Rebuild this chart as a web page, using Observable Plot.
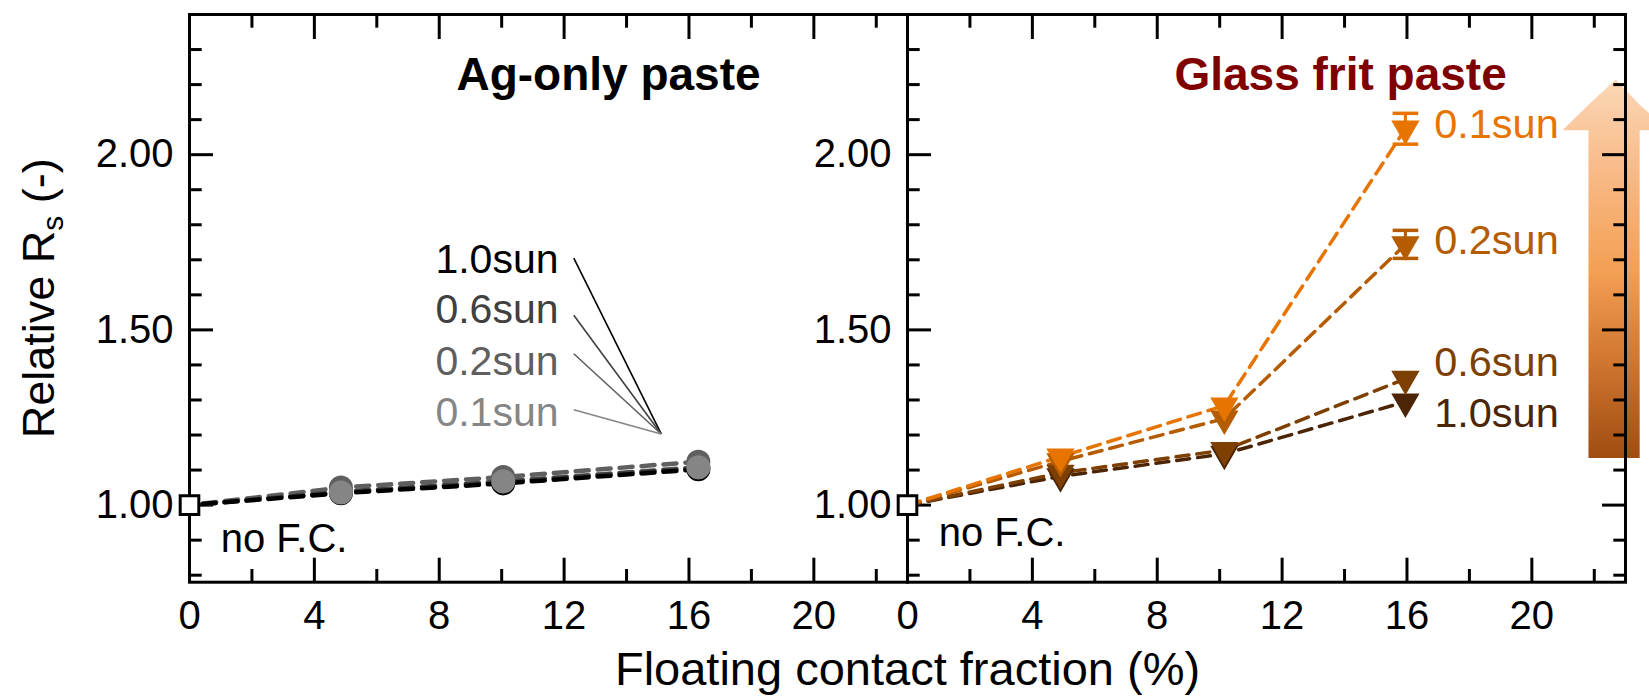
<!DOCTYPE html>
<html><head><meta charset="utf-8">
<script src="https://cdn.jsdelivr.net/npm/d3@7"></script>
<script src="https://cdn.jsdelivr.net/npm/@observablehq/plot@0.6"></script>
<style>
html,body{margin:0;padding:0;background:#fff;}
#chart{width:1649px;height:697px;overflow:hidden;position:relative;}
</style></head><body><div id="chart"></div>
<script>
// ---------------- data ----------------
const pastes = ["Ag-only paste", "Glass frit paste"];
const suns = ["1.0sun", "0.6sun", "0.2sun", "0.1sun"];

// Ag-only paste (circles)
const agX = [0, 4.85, 10.05, 16.3];
const agRs10 = [1.00, 1.034, 1.062, 1.102];
const agRs06 = [1.00, 1.038, 1.067, 1.107];
const agRs02 = [1.00, 1.050, 1.080, 1.124];
const agRs01 = [1.00, 1.036, 1.068, 1.108];

// Glass frit paste (down triangles)
const gfX = [0, 4.9, 10.15, 15.95];
const gfRs10 = [1.00, 1.082, 1.146, 1.295];
const gfRs06 = [1.00, 1.092, 1.157, 1.360];
const gfRs02 = [1.00, 1.125, 1.247, 1.744];
const gfRs01 = [1.00, 1.138, 1.284, 2.074];
const gfErr02 = [0, 0, 0, 0.040];
const gfErr01 = [0, 0, 0, 0.044];

const agColors = ["#000000", "#404040", "#5f5f5f", "#858585"];
const gfColors = ["#4b2505", "#7e3f02", "#b55b00", "#e87400"];

// axis ticks
const xMajor = [0, 4, 8, 12, 16, 20];
const xMinor = [2, 6, 10, 14, 18, 22];
const yMajor = [1.0, 1.5, 2.0];
const yMinor = [0.8, 0.9, 1.1, 1.2, 1.3, 1.4, 1.6, 1.7, 1.8, 1.9, 2.1, 2.2, 2.3];

// annotations
const titleX = [8.55, 8.55];
const titleY = [2.184, 2.184];
const noFcX = [1.0, 1.0];
const noFcY = [0.866, 0.882];
const originX = [0, 0];
const originY = [1.0, 1.0];
const agLabelX = 11.82;
const agLabelY = [1.662, 1.519, 1.371, 1.225];
const agLeadX1 = 12.31;
const agLeadY1 = [1.705, 1.542, 1.432, 1.272];
const agLeadX2 = 15.11;
const agLeadY2 = 1.203;
const gfLabelX = 16.87;
const gfLabelY = [1.222, 1.368, 1.716, 2.047];
const yTitle = "Relative Rs (-)";
const xTitle = "Floating contact fraction (%)";

// decorative arrow (right panel, data units)
const arrowX  = [21.0, 21.83, 21.83, 22.7, 23.47, 23.47, 24.4];
const arrowY1 = [2.068, 2.068, 1.133, 1.133, 1.133, 2.068, 2.068];
const arrowY2 = [2.068, 2.141, 2.141, 2.213, 2.141, 2.141, 2.068];

// ---------------- tables ----------------
const key = (p, s) => p + " " + s;
const agSeries = [agRs10, agRs06, agRs02, agRs01];
const gfSeries = [gfRs10, gfRs06, gfRs02, gfRs01];
const gfErrs = [null, null, gfErr02, gfErr01];

const agRows = [];
agSeries.forEach((vals, k) => agX.forEach((x, i) => agRows.push({paste: pastes[0], sun: suns[k], key: key(pastes[0], suns[k]), x, y: vals[i]})));
const agLineRows = agRows.slice().reverse(); // black dashes on top
const gfRows = [];
gfSeries.forEach((vals, k) => gfX.forEach((x, i) => gfRows.push({paste: pastes[1], sun: suns[k], key: key(pastes[1], suns[k]), x, y: vals[i], err: gfErrs[k] ? gfErrs[k][i] : 0})));
const errRows = gfRows.filter(d => d.err > 0);
const capRows = errRows.flatMap(d => [{...d, y: d.y - d.err}, {...d, y: d.y + d.err}]);

const colorDomain = [...suns.map(s => key(pastes[0], s)), ...suns.map(s => key(pastes[1], s))];
const colorRange = [...agColors, ...gfColors];

const originRows = pastes.map((p, i) => ({paste: p, x: originX[i], y: originY[i]}));
const noFcRows = pastes.map((p, i) => ({paste: p, x: noFcX[i], y: noFcY[i]}));
const agLabelRows = suns.map((s, k) => ({paste: pastes[0], sun: s, key: key(pastes[0], s), x: agLabelX, y: agLabelY[k]}));
const agLeadRows = suns.map((s, k) => ({paste: pastes[0], key: key(pastes[0], s), x1: agLeadX1, y1: agLeadY1[k], x2: agLeadX2, y2: agLeadY2}));
const gfLabelRows = suns.map((s, k) => ({paste: pastes[1], sun: s, key: key(pastes[1], s), x: gfLabelX, y: gfLabelY[k]}));
const arrowRows = arrowX.map((x, i) => ({paste: pastes[1], x, y1: arrowY1[i], y2: arrowY2[i]}));

const capSymbol = {draw(ctx, size) { const r = Math.sqrt(size / Math.PI); ctx.moveTo(-r, 0); ctx.lineTo(r, 0); }};

const FONT = "'Liberation Sans', Arial, Helvetica, sans-serif";
const tick = {stroke: "black", strokeWidth: 3, fill: "none", label: null};

const plot = Plot.plot({
  width: 1649, height: 697,
  marginLeft: 187.7, marginRight: 23.5, marginTop: 14, marginBottom: 115.3,
  style: {fontFamily: FONT, background: "transparent", overflow: "visible", color: "black"},
  fx: {domain: pastes, padding: 0, axis: null, label: null},
  x: {domain: [0, 23], axis: null},
  y: {domain: [0.78, 2.4], axis: null},
  color: {domain: colorDomain, range: colorRange},
  marks: [
    Plot.areaY(arrowRows, {fx: "paste", x: "x", y1: "y1", y2: "y2", fill: "url(#rsArrowGrad)", curve: "linear"}),
    Plot.frame({stroke: "black", strokeWidth: 3}),
    // inward ticks
    Plot.axisX(xMajor, {anchor: "bottom", tickSize: -24, ...tick}),
    Plot.axisX(xMinor, {anchor: "bottom", tickSize: -12.7, ...tick}),
    Plot.axisX(xMajor, {anchor: "top", tickSize: -24, ...tick}),
    Plot.axisX(xMinor, {anchor: "top", tickSize: -12.7, ...tick}),
    Plot.axisY(yMajor, {anchor: "left", facetAnchor: null, tickSize: -24, ...tick}),
    Plot.axisY(yMinor, {anchor: "left", facetAnchor: null, tickSize: -12.7, ...tick}),
    Plot.axisY(yMajor, {anchor: "right", facetAnchor: "right", tickSize: -24, ...tick}),
    Plot.axisY(yMinor, {anchor: "right", facetAnchor: "right", tickSize: -12.7, ...tick}),
    // tick labels
    Plot.axisX(xMajor, {anchor: "bottom", tickSize: 0, tickPadding: 18, fontSize: 40, label: null, tickFormat: d => String(d)}),
    Plot.axisY(yMajor, {anchor: "left", facetAnchor: null, tickSize: 0, tickPadding: 16, fontSize: 40, label: null, tickFormat: d3.format(".2f")}),
    // series
    Plot.line(agLineRows, {fx: "paste", x: "x", y: "y", z: "key", stroke: "key", strokeWidth: 4.5, strokeDasharray: "13,9"}),
    Plot.line(gfRows, {fx: "paste", x: "x", y: "y", z: "key", stroke: "key", strokeWidth: 3.5, strokeDasharray: "13,8"}),
    Plot.dot(agRows.filter(d => d.x > 0), {fx: "paste", x: "x", y: "y", fill: "key", r: 12, symbol: "circle"}),
    Plot.dot(gfRows.filter(d => d.x > 0), {fx: "paste", x: "x", y: "y", fill: "key", r: 10.5, symbol: "triangle", rotate: 180}),
    Plot.ruleX(errRows, {fx: "paste", x: "x", y1: d => d.y - d.err, y2: d => d.y + d.err, stroke: "key", strokeWidth: 3}),
    Plot.dot(capRows, {fx: "paste", x: "x", y: "y", stroke: "key", fill: "none", symbol: capSymbol, r: 12.8, strokeWidth: 3.5}),
    Plot.dot(originRows, {fx: "paste", x: "x", y: "y", symbol: "square", r: 10.5, fill: "white", stroke: "black", strokeWidth: 3}),
    // annotations
    Plot.text([{paste: pastes[0], x: titleX[0], y: titleY[0], t: pastes[0]}], {fx: "paste", x: "x", y: "y", text: "t", textAnchor: "start", lineAnchor: "bottom", fontSize: 46, fontWeight: "bold", fill: "black"}),
    Plot.text([{paste: pastes[1], x: titleX[1], y: titleY[1], t: pastes[1]}], {fx: "paste", x: "x", y: "y", text: "t", textAnchor: "start", lineAnchor: "bottom", fontSize: 46, fontWeight: "bold", fill: "#800000"}),
    Plot.text(noFcRows, {fx: "paste", x: "x", y: "y", text: () => "no F.C.", textAnchor: "start", lineAnchor: "bottom", fontSize: 40, fill: "black"}),
    Plot.link(agLeadRows, {fx: "paste", x1: "x1", y1: "y1", x2: "x2", y2: "y2", stroke: "key", strokeWidth: 1.6}),
    Plot.text(agLabelRows, {fx: "paste", x: "x", y: "y", text: "sun", fill: "key", textAnchor: "end", lineAnchor: "bottom", fontSize: 41}),
    Plot.text(gfLabelRows, {fx: "paste", x: "x", y: "y", text: "sun", fill: "key", textAnchor: "start", lineAnchor: "bottom", fontSize: 41.5}),
    Plot.text([yTitle], {facet: "super", frameAnchor: "left", dx: -136, rotate: -90, textAnchor: "middle", lineAnchor: "bottom", fontSize: 45, fill: "black"}),
    Plot.text([xTitle], {facet: "super", frameAnchor: "bottom", dy: 103, textAnchor: "middle", lineAnchor: "bottom", fontSize: 47, fill: "black"})
  ]
});

// gradient for the arrow
const svg = d3.select(plot);
const defs = svg.insert("defs", ":first-child");
const grad = defs.append("linearGradient").attr("id", "rsArrowGrad").attr("x1", 0).attr("y1", 0).attr("x2", 0).attr("y2", 1);
[[0, "#fbd7b6"], [0.25, "#f8b986"], [0.5, "#f4a055"], [0.72, "#d47a33"], [1, "#a04d10"]].forEach(([o, c]) =>
  grad.append("stop").attr("offset", o).attr("stop-color", c));

// subscript in the y-axis title
svg.selectAll("text").filter(function() { return this.textContent === yTitle; }).each(function() {
  const t = d3.select(this);
  t.text(null);
  t.append("tspan").text("Relative R");
  t.append("tspan").attr("font-size", 30).attr("dy", 9).text("s");
  t.append("tspan").attr("dy", -9).text(" (-)");
});

document.getElementById("chart").appendChild(plot);
</script></body></html>
